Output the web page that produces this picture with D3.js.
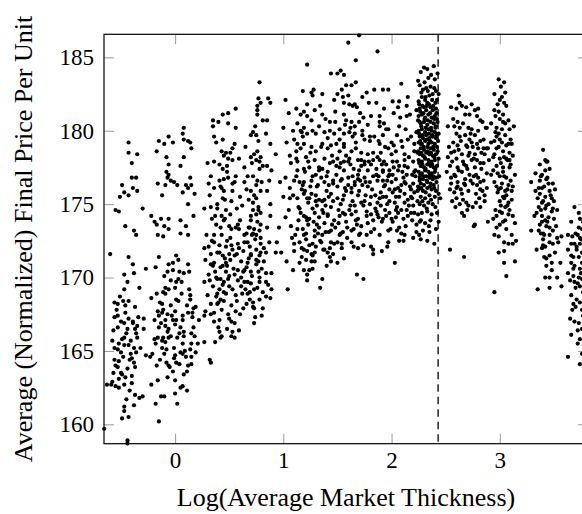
<!DOCTYPE html>
<html lang="en">
<head>
<meta charset="UTF-8">
<title>Average Final Price vs Log Market Thickness</title>
<script src="https://d3js.org/d3.v7.min.js"></script>
<style>
  body { margin: 0; background: white; }
  svg { display: block; }
</style>
</head>
<body>
<svg id="vis"></svg>
<script>
// axis setup
const xDomain = [-0.657, 3.815];
const yDomain = [158.68, 186.57];
const xTicks = [0, 1, 2, 3];
const yTicks = [160, 165, 170, 175, 180, 185];
const cutoff = 2.43;
const xLabel = "Log(Average Market Thickness)";
const yLabel = "Average (Normalized) Final Price Per Unit";

// points, grouped by region: [log thickness, price]
const upperLeft = [
  [-0.43,179.2],[-0.43,178.5],[-0.35,178.4],[-0.40,177.8],[-0.40,176.8],[-0.36,176.8],[-0.49,176.3],[-0.39,176.1],
  [-0.35,175.9],[-0.47,175.8],[-0.51,175.5],[-0.43,175.6],[-0.55,174.6],[-0.52,174.5],[-0.30,174.7],[-0.46,173.5],
  [-0.38,173.2],[-0.36,172.9],
  [-0.15,179.3],[-0.10,179.1],[-0.06,179.6],[-0.02,179.2],[-0.17,178.6],[0.08,180.2],[0.07,179.8],[0.08,179.4],
  [0.12,179.3],[0.14,179.2],[0.15,178.8],[-0.08,178.2],[0.08,178.2],[-0.06,177.7],[0.05,177.6],[-0.08,177.2],
  [-0.06,177.0],[-0.07,176.8],[-0.04,176.6],[-0.01,176.5],[0.02,176.3],[-0.09,176.3],[-0.16,176.4],[0.10,176.3],
  [0.14,176.8],[0.15,176.3],[0.12,176.1],[0.07,175.8],[0.18,175.7],[-0.12,175.6],[0.12,175.0],[0.17,174.2],
  [-0.22,174.2],[-0.19,173.8],[-0.17,173.6],[-0.13,174.0],[-0.06,174.0],[-0.10,173.5],[-0.06,173.3],[0.05,173.9],
  [0.10,173.5],[0.05,173.0],[0.12,172.9],[-0.16,172.9],[-0.11,172.8],
  [0.35,180.7],[0.40,180.6],[0.44,181.1],[0.49,181.2],[0.56,181.5],[0.35,180.3],[0.49,180.5],[0.56,180.2],
  [0.36,179.6],[0.44,179.4],[0.38,179.2],[0.55,179.1],[0.43,178.6],[0.47,178.5],[0.51,178.5],[0.53,178.8],
  [0.45,178.3],[0.49,178.1],[0.53,178.0],[0.59,178.1],[0.30,177.8],[0.36,177.9],[0.41,177.7],[0.44,177.4],
  [0.48,177.6],[0.33,176.9],[0.31,176.4],[0.41,176.6],[0.45,176.7],[0.49,176.8],[0.53,176.4],[0.56,176.9],
  [0.43,176.1],[0.36,176.1],[0.45,175.9],[0.53,175.9],[0.60,175.5],[0.44,175.4],[0.39,175.0],[0.52,175.2],
  [0.27,174.7],[0.33,174.8],[0.39,174.7],[0.47,174.6],[0.43,174.2],[0.34,174.0],[0.45,173.9],[0.50,173.5],
  [0.56,173.4],[0.59,173.3],[0.42,173.4],[0.36,172.9],
  [0.32,175.6],[0.37,174.2],[0.42,176.2],[0.46,175.3],[0.51,174.3],[0.55,176.5],[0.58,173.6],[0.62,174.9],
  [0.66,176.0],[0.69,173.4],[0.73,175.6],[0.77,174.6],[0.80,176.5],[0.64,177.5],[0.48,177.2],
  [0.78,183.3],[0.77,182.2],[0.76,181.7],[0.76,181.4],[0.76,181.1],[0.81,180.7],[0.72,179.9],[0.75,179.7],
  [0.70,179.7],[0.65,178.9],[0.76,178.6],[0.73,178.4],[0.79,178.2],[0.70,178.2],[0.75,178.0],[0.78,177.9],
  [0.81,177.6],[0.78,177.4],[0.72,176.9],[0.67,176.9],[0.76,176.6],[0.79,175.9],[0.70,175.9],[0.75,175.4],
  [0.72,175.1],[0.77,174.8],[0.70,174.2],[0.75,174.3],[0.79,174.4],[0.70,173.9],[0.76,173.8],[0.68,173.4],
  [0.73,173.3],[0.78,173.2],[0.72,173.0],[0.64,172.9],[0.75,172.9],[0.79,172.7]
];

const lowerLeft = [
  [-0.60,171.6],[-0.43,171.4],[-0.39,170.9],[-0.47,170.2],[-0.38,170.3],[-0.44,169.7],[-0.47,169.2],[-0.33,169.3],
  [-0.27,170.6],[-0.56,168.3],[-0.53,168.2],[-0.46,168.1],[-0.43,168.4],[-0.37,168.0],[-0.56,167.3],[-0.53,167.4],
  [-0.47,166.9],[-0.39,167.0],[-0.44,166.5],[-0.37,166.5],[-0.35,166.7],[-0.29,167.2],[-0.29,166.5],[-0.47,165.9],
  [-0.35,165.9],[-0.58,165.7],[-0.52,165.5],[-0.47,165.4],[-0.43,165.4],[-0.38,165.2],[-0.32,165.2],[-0.53,165.1],
  [-0.50,164.9],[-0.41,164.8],[-0.56,164.4],[-0.52,164.3],[-0.42,164.4],[-0.38,164.2],[-0.53,163.9],[-0.37,163.9],
  [-0.57,163.5],[-0.50,163.5],[-0.49,163.4],[-0.63,162.7],[-0.59,162.7],[-0.55,162.6],[-0.52,162.5],[-0.47,162.7],
  [-0.40,162.8],[-0.30,161.9],[-0.33,161.8],[-0.38,161.3],[-0.47,161.2],[-0.47,160.9],[-0.49,160.4],[-0.43,160.5],
  [-0.655,159.7],[-0.44,158.9],[-0.22,162.7],[-0.18,161.4],
  [-0.15,171.4],[0.01,171.5],[0.03,171.2],[-0.18,170.7],[-0.07,170.4],[-0.02,170.5],[0.04,170.4],[0.12,170.9],
  [0.13,170.4],[0.06,169.7],[0.01,169.7],[-0.06,169.2],[-0.09,169.3],[-0.11,169.0],[0.00,169.3],[-0.22,168.6],
  [0.14,168.8],[0.14,168.5],[-0.12,168.2],[-0.04,168.1],[0.03,168.4],[-0.16,167.7],[-0.12,167.6],[-0.07,167.5],
  [-0.15,167.4],[0.00,167.7],[0.12,167.6],[0.19,168.0],[0.16,167.6],[-0.09,167.1],[-0.02,167.1],[0.01,167.1],
  [0.07,167.1],[-0.15,166.6],[-0.09,166.7],[-0.06,166.5],[0.00,166.8],[0.17,166.6],[-0.04,166.0],[-0.06,165.9],
  [0.04,166.2],[0.08,166.0],[0.08,166.3],[0.18,166.0],[-0.19,165.8],[-0.16,165.9],[-0.11,165.9],[-0.09,165.6],
  [-0.18,165.5],[-0.12,165.2],[-0.01,165.2],[0.07,165.5],[0.15,165.5],[0.21,165.5],[-0.21,164.8],[-0.27,164.7],
  [-0.23,164.6],[-0.10,164.8],[0.00,164.7],[0.05,164.9],[0.07,164.8],[0.10,164.6],[0.15,164.6],[-0.17,164.0],
  [-0.08,164.2],[-0.06,164.0],[0.01,164.2],[-0.02,163.6],[0.15,164.1],[0.12,164.0],[0.08,163.4],[-0.07,163.2],
  [0.07,162.6],[0.05,162.5],[0.11,162.3],[0.00,162.1],[-0.13,161.9],[-0.10,161.9],[0.02,161.4],[-0.15,160.2],
  [0.27,172.0],[0.36,172.4],[0.41,172.2],[0.47,172.1],[0.52,172.2],[0.58,172.3],[0.64,172.4],[0.69,172.1],
  [0.75,171.9],[0.79,172.3],[0.41,171.7],[0.44,171.5],[0.50,171.6],[0.55,171.5],[0.70,171.6],[0.78,171.5],
  [0.33,170.9],[0.36,171.0],[0.42,170.7],[0.48,170.8],[0.58,170.5],[0.64,170.5],[0.70,170.4],[0.77,170.4],
  [0.61,171.1],[0.67,171.0],[0.27,169.7],[0.32,169.8],[0.38,170.0],[0.42,169.9],[0.45,169.7],[0.49,169.9],
  [0.50,169.4],[0.41,169.2],[0.45,169.0],[0.39,168.9],[0.42,168.5],[0.33,168.2],[0.28,167.7],[0.33,167.5],
  [0.36,167.6],[0.39,168.2],[0.52,168.1],[0.56,167.7],[0.41,167.1],[0.50,167.2],[0.61,169.4],[0.64,169.7],
  [0.70,169.6],[0.73,169.2],[0.78,169.7],[0.67,168.9],[0.72,168.3],[0.78,168.5],[0.81,167.9],[0.73,166.9],
  [0.22,167.1],[0.27,165.6],[0.41,166.3],[0.42,165.9],[0.53,166.3],[0.55,165.9],[0.52,166.0],[0.32,164.4],
  [0.33,164.2],[0.27,167.4],[0.16,167.3],
  [0.28,171.2],[0.31,170.2],[0.35,169.4],[0.38,168.7],[0.43,167.8],[0.46,171.3],[0.50,170.1],[0.53,169.2],
  [0.57,168.4],[0.60,167.5],[0.63,171.8],[0.66,170.7],[0.69,169.0],[0.72,168.0],[0.75,171.2],[0.78,170.0],
  [0.81,169.0],[0.34,172.5],[0.48,172.5],[0.58,169.8],[0.67,172.4],[0.55,166.9],[0.40,166.6],[0.74,167.3],
  [0.44,170.8],[0.39,169.9],[0.62,168.9],[0.70,171.5],[0.53,171.9],[0.47,168.9],[-0.44,158.7]
];

const denseLeft = [
  [-0.54,167.8],[-0.50,167.0],[-0.45,166.2],[-0.41,165.7],[-0.48,164.6],[-0.44,163.8],[-0.52,163.1],[-0.39,166.9],
  [-0.36,164.9],[-0.57,166.4],[-0.46,167.6],[-0.42,162.3],[-0.55,164.0],[-0.49,165.8],[-0.40,163.3],[-0.34,167.3],
  [-0.58,162.9],[-0.45,161.7],[-0.51,168.7],[-0.37,162.0],
  [-0.53,166.6],[-0.48,168.4],[-0.43,167.2],[-0.40,164.5],[-0.56,165.2],[-0.46,163.2],[-0.36,166.2],
  [-0.17,168.9],[-0.13,166.9],[-0.08,165.1],[-0.04,169.8],[0.01,168.5],[0.05,166.6],[0.09,165.0],[0.13,169.2],
  [0.17,167.9],[-0.19,167.1],[-0.14,164.4],[-0.10,170.1],[-0.05,163.9],[0.02,165.9],[0.06,168.9],[0.11,163.6],
  [0.15,166.2],[-0.11,167.8],[-0.02,171.0],[0.04,164.1],[-0.16,163.0],[0.08,170.3],[0.19,164.9],[-0.07,166.3],
  [0.00,163.0],[-0.14,168.3],[-0.09,168.9],[-0.03,167.4],[0.03,169.9],[0.07,167.4],[0.11,168.1],[-0.12,165.7],
  [-0.01,164.5],[0.14,165.1],[-0.06,170.9],
  [0.29,172.9],[0.33,171.6],[0.37,170.4],[0.40,168.3],[0.44,169.5],[0.47,171.0],[0.51,172.7],[0.54,170.6],
  [0.57,171.6],[0.61,170.0],[0.65,169.2],[0.68,171.3],[0.71,170.1],[0.74,172.6],[0.77,171.1],[0.80,170.6],
  [0.30,168.8],[0.36,167.0],[0.43,166.0],[0.49,167.5],[0.56,168.8],[0.63,167.9],[0.69,168.5],[0.76,169.3],
  [0.82,172.0],[0.52,173.3],[0.60,173.9],[0.66,173.0],[0.72,174.6],[0.79,173.6],[0.38,173.6],[0.46,174.0],
  [0.57,174.7],[0.64,176.5],[0.71,177.8],[0.77,179.3],[0.74,180.3],[0.79,181.9],[0.75,176.3],[0.68,175.3],
  [0.31,172.1],[0.35,170.8],[0.39,171.7],[0.43,172.9],[0.47,170.4],[0.51,171.2],[0.55,170.2],[0.59,172.0],
  [0.63,170.4],[0.67,169.7],[0.71,172.9],[0.75,170.9],[0.79,171.7],[0.45,168.4],[0.52,167.0],[0.59,166.4],
  [0.66,168.2],[0.73,167.9],[0.80,167.4],[0.37,165.6],[0.48,166.5]
];

const upperMid = [
  [1.70,186.5],[1.60,186.0],[1.87,185.4],[1.67,184.8],[1.22,184.5],[1.44,183.9],[1.50,183.9],[1.53,184.1],
  [1.56,183.8],[1.58,183.1],[1.63,183.1],[1.67,183.3],[2.09,183.2],[1.18,182.7],[1.26,182.6],[1.28,182.8],
  [1.27,182.4],[1.36,182.5],[1.50,182.5],[1.55,182.3],[1.47,182.1],[1.56,181.9],[1.60,182.4],[1.66,181.8],
  [1.64,181.7],[1.73,182.3],[1.77,182.6],[1.84,182.8],[1.92,182.8],[1.97,182.8],[2.01,182.0],[2.07,182.0],
  [2.15,182.3],[2.06,181.6],[2.14,181.7],[0.86,182.2],[0.88,181.9],[1.02,182.1],[1.22,181.8],[1.86,181.9],
  [1.79,181.9],[1.93,181.5],[1.05,181.2],[1.12,181.5],[1.16,181.1],[1.19,181.3],[1.22,181.0],[1.36,181.1],
  [1.39,180.8],[1.43,180.6],[1.48,181.3],[1.56,181.1],[1.58,180.7],[1.63,180.6],[1.66,180.3],[1.70,180.6],
  [1.73,180.0],[1.81,181.0],[1.89,181.0],[1.89,180.6],[1.93,180.5],[1.97,180.1],[2.07,180.3],[2.14,181.0],
  [2.17,181.1],[2.23,181.4],[2.26,180.6],[0.85,180.7],[1.00,180.2],[1.09,180.0],[1.13,180.5],[1.16,180.0],
  [1.19,180.2],[1.22,179.8],[1.27,180.0],[1.30,179.8],[1.38,179.9],[1.43,180.0],[1.47,179.8],[1.52,180.1],
  [1.56,179.8],[1.61,179.9],[1.66,179.8],[1.75,179.4],[1.80,179.3],[1.84,179.6],[1.92,179.7],[1.89,179.1],
  [2.00,179.2],[2.09,179.3],[2.18,179.6],[2.21,179.1],[2.27,179.1],[0.84,179.8],[0.88,179.1],[1.03,179.2],
  [1.10,179.4],[1.13,179.1],[1.19,179.1],[1.16,178.8],[1.26,178.9],[1.30,178.6],[1.36,179.1],[1.41,178.8],
  [1.44,179.0],[1.49,179.1],[1.52,178.6],[1.56,178.9],[1.63,178.6],[1.67,178.8],[1.72,178.5],[1.78,178.4],
  [1.83,178.5],[1.90,178.5],[1.97,178.8],[2.04,178.6],[2.12,178.4],[2.24,178.5],[0.93,178.4],[1.06,178.3],
  [1.12,178.1],[1.21,178.2],[1.29,178.0],[1.38,178.1],[1.46,177.9],[1.50,178.1],[1.56,177.9],[1.61,178.1],
  [1.69,178.0],[1.75,177.7],[1.81,177.7],[1.89,178.0],[1.95,177.7],[2.01,177.9],[2.07,177.6],[2.12,178.0],
  [2.20,177.9],[2.27,177.6],[0.85,177.6],[0.89,177.3],[1.13,177.3],[1.19,177.4],[1.24,177.5],[1.33,177.3],
  [1.41,177.2],[1.49,177.0],[1.56,177.3],[1.64,176.9],[1.70,177.3],[1.78,177.3],[1.86,177.0],[1.92,177.3],
  [1.98,177.0],[2.06,177.3],[2.14,177.0],[2.21,177.2],[0.87,176.6],[0.97,176.5],[1.06,176.1],[1.10,176.6],
  [1.19,176.5],[1.26,176.6],[1.32,176.3],[1.38,176.5],[1.46,176.4],[1.53,176.6],[1.60,176.3],[1.66,176.5],
  [1.73,176.3],[1.80,176.5],[1.87,176.6],[1.94,176.3],[2.00,176.5],[2.06,176.1],[2.12,176.5],[2.20,176.4],
  [2.26,176.6],[0.85,175.9],[1.00,175.5],[1.06,175.4],[1.19,175.7],[1.24,175.4],[1.30,175.6],[1.36,175.2],
  [1.44,175.7],[1.50,175.4],[1.56,175.6],[1.64,175.2],[1.69,175.6],[1.75,175.2],[1.81,175.5],[1.87,175.1],
  [1.92,175.5],[1.98,175.2],[2.04,175.5],[2.12,175.1],[2.18,175.5],[2.24,175.2],[0.88,175.0],[0.88,174.2],
  [1.02,174.1],[1.07,173.5],[1.15,174.7],[1.19,174.2],[1.22,173.9],[1.29,174.4],[1.33,174.1],[1.38,173.7],
  [1.41,174.3],[1.47,173.9],[1.52,174.2],[1.58,173.8],[1.63,174.3],[1.67,173.9],[1.72,173.5],[1.77,174.2],
  [1.83,173.9],[1.87,174.3],[1.92,174.0],[1.98,174.4],[2.04,174.1],[2.09,174.6],[2.15,174.2],[2.21,174.4],
  [2.27,173.9],[0.96,173.4],[1.13,173.3],[1.21,173.0],[1.29,173.2],[1.36,172.9],[1.44,173.2],[1.53,173.0],
  [1.63,173.2],[1.70,172.9],[1.81,173.1],[1.89,172.9],[1.97,173.2],[2.09,173.0],[2.23,173.1],[0.85,173.4],
  [1.12,176.9],[1.17,176.0],[1.23,175.1],[1.27,174.7],[1.31,173.6],[1.35,176.8],[1.40,175.9],[1.44,174.8],
  [1.48,173.4],[1.53,175.0],[1.57,176.1],[1.61,174.6],[1.65,173.3],[1.69,176.7],[1.74,174.9],[1.78,173.7],
  [1.82,176.0],[1.85,174.7],[1.90,175.8],[1.94,174.6],[1.97,176.9],[2.01,173.8],[2.05,174.8],[2.08,175.9],
  [2.13,173.5],[2.17,176.2],[2.20,174.9],[2.23,173.6],[1.14,173.9],[1.19,172.9],[1.25,176.2],[1.29,172.8],
  [1.33,175.3],[1.37,174.4],[1.42,173.1],[1.46,176.6],[1.51,173.7],[1.55,174.4],[1.59,172.7],[1.63,175.8],
  [1.67,174.5],[1.71,173.0],[1.76,176.5],[1.80,175.0],[1.84,173.3],[1.88,174.1],[1.92,176.6],[1.96,175.0],
  [2.00,174.0],[2.03,176.0],[2.07,173.4],[2.11,176.8],[2.15,175.3],[2.19,173.9],[2.22,177.3],[2.12,177.6],
  [2.02,177.5],[1.93,177.9],[1.83,178.0],[1.72,177.6],[1.62,177.7],[1.52,177.5],[1.43,177.8],[1.33,177.5],
  [1.23,177.9],[1.13,177.9]
];

const denseMid = [
  [1.13,175.4],[1.16,174.4],[1.18,173.3],[1.21,172.6],[1.24,174.0],[1.26,175.7],[1.28,173.8],[1.31,174.9],
  [1.34,172.5],[1.36,174.6],[1.39,173.1],[1.42,175.5],[1.44,172.4],[1.15,176.5],[1.20,177.2],[1.25,178.5],
  [1.30,177.0],[1.35,178.9],[1.40,176.9],[1.45,178.3],[1.18,179.6],[1.29,181.4],[1.33,180.3],[1.11,172.9],
  [1.22,175.4],[1.27,171.5],[1.32,173.0],[1.37,171.9],[1.41,174.2],[1.17,171.4],[1.23,173.6],[1.38,175.3],
  [1.20,175.9],[1.31,176.2],
  [1.14,174.8],[1.18,176.3],[1.21,174.1],[1.24,172.2],[1.27,176.9],[1.30,175.2],[1.33,173.4],[1.36,177.4],
  [1.39,174.9],[1.42,176.3],[1.45,173.6],[1.12,178.6],[1.17,179.9],[1.26,180.7],[1.34,181.7],[1.41,179.5],
  [1.48,180.6],[1.46,175.2],[1.49,177.6],[1.52,172.9],
  [1.02,176.8],[1.05,174.6],[1.08,172.7],[1.03,171.1],[1.07,177.8],[1.09,175.6],
  [1.50,176.2],[1.53,177.8],[1.55,175.3],[1.58,178.3],[1.60,176.8],[1.62,174.9],[1.65,177.4],[1.67,179.2],
  [1.70,175.9],[1.72,178.0],[1.75,176.8],[1.77,174.5],[1.79,177.9],[1.52,179.4],[1.57,180.4],[1.64,179.6],
  [1.71,181.2],[1.61,181.8],[1.55,173.1],[1.68,173.6],[1.74,172.2],[1.58,175.9],[1.66,176.3],[1.73,179.7],
  [1.78,180.4],[1.51,174.6],[1.63,172.4],[1.69,174.0],[1.76,175.6],[1.54,182.8],
  [1.54,176.7],[1.57,174.3],[1.60,177.9],[1.63,176.1],[1.66,174.9],[1.69,177.0],[1.72,175.1],[1.75,177.9],
  [1.78,176.2],[1.81,174.3],[1.56,179.1],[1.62,180.2],[1.68,181.6],[1.74,180.9],[1.80,179.6],[1.59,173.4],
  [1.65,172.1],[1.71,176.6],[1.77,172.9],[1.83,176.9],
  [1.85,175.6],[1.88,176.9],[1.90,174.9],[1.93,176.2],[1.95,175.5],[1.98,177.3],[2.01,175.8],[2.04,176.7],
  [2.06,174.4],[2.09,176.3],[2.12,175.7],[2.15,177.5],[2.18,176.0],[2.21,175.8],[1.87,178.2],[1.94,178.9],
  [2.00,178.4],[2.05,179.7],[2.10,178.9],[2.16,178.2],[1.91,173.8],[1.99,173.3],[2.07,172.5],[2.14,174.6],
  [2.20,172.7],[1.86,177.4],[1.96,176.6],[2.03,175.1],[2.11,174.0],[2.19,177.0],[2.23,179.9],[2.24,175.9],
  [1.89,180.3],[2.02,181.2],[2.13,180.1],
  [1.86,174.5],[1.89,175.4],[1.92,177.2],[1.95,174.2],[1.98,176.0],[2.01,177.0],[2.04,174.6],[2.07,175.5],
  [2.10,177.2],[2.13,176.4],[2.16,174.9],[2.19,175.4],[2.22,176.9],[1.88,179.3],[1.95,180.1],[2.02,179.0],
  [2.08,180.9],[2.15,179.4],[2.21,178.6],[1.97,172.4],[2.05,173.2],[2.12,172.9],[2.18,174.4],[1.91,177.7],
  [2.05,177.9]
];

const lowerMid = [
  [0.87,172.4],[0.94,172.4],[0.84,171.7],[0.93,171.7],[0.98,171.7],[0.82,171.1],[0.84,170.3],[0.89,170.3],
  [0.84,169.7],[0.86,169.5],[0.89,169.2],[0.84,168.7],[0.88,168.6],[1.04,169.2],[1.09,170.5],[1.10,172.3],
  [1.10,171.8],[1.15,172.4],[1.17,172.0],[1.19,171.9],[1.22,171.8],[1.27,172.3],[1.30,172.1],[1.29,171.7],
  [1.26,171.6],[1.15,171.0],[1.21,171.2],[1.26,171.1],[1.29,171.1],[1.19,170.5],[1.24,170.5],[1.27,170.6],
  [1.22,170.2],[1.22,169.8],[1.36,169.9],[1.34,169.3],[1.35,172.4],[1.38,171.9],[1.43,172.0],[1.47,172.3],
  [1.50,172.4],[1.41,171.7],[1.46,171.6],[1.43,171.4],[1.44,171.1],[1.40,170.8],[1.50,171.0],[1.56,171.3],
  [1.54,172.0],[1.54,172.3],[1.69,172.0],[1.68,170.2],[1.74,169.9],[1.81,172.1],[1.83,171.9],[1.83,171.6],
  [1.91,171.8],[1.96,172.1],[2.03,171.0],[2.11,172.5]
];

const peakBand = [
  [2.30,184.3],[2.33,184.2],[2.39,184.4],[2.27,184.0],[2.34,183.6],[2.40,183.5],[2.26,183.1],[2.29,182.8],
  [2.32,182.9],[2.36,183.0],[2.41,182.7],[2.38,182.5],[2.28,182.3],[2.31,182.1],[2.35,182.4],[2.42,182.1],
  [2.25,182.0],[2.33,181.9],
  [2.26,181.5],[2.30,181.6],[2.32,181.4],[2.36,181.6],[2.38,181.4],[2.41,181.5],
  [2.25,181.0],[2.28,181.1],[2.31,180.9],[2.34,181.1],[2.37,180.9],[2.40,181.0],[2.42,180.8],
  [2.27,180.5],[2.30,180.6],[2.33,180.4],[2.36,180.6],[2.39,180.5],[2.41,180.3],
  [2.25,180.0],[2.28,180.1],[2.31,179.9],[2.34,180.1],[2.37,180.0],[2.40,179.9],
  [2.26,179.6],[2.29,179.5],[2.32,179.7],[2.35,179.5],[2.38,179.6],[2.41,179.5],
  [2.25,179.2],[2.28,179.1],[2.31,179.3],[2.34,179.1],[2.37,179.2],[2.40,179.1],[2.43,179.3],
  [2.27,178.8],[2.30,178.7],[2.33,178.9],[2.36,178.8],[2.39,178.7],[2.42,178.9],
  [2.26,178.4],[2.29,178.3],[2.32,178.5],[2.35,178.4],[2.38,178.3],[2.41,178.4],
  [2.25,178.0],[2.28,177.9],[2.31,178.1],[2.34,178.0],[2.37,177.9],[2.40,178.0],
  [2.27,177.6],[2.30,177.5],[2.33,177.7],[2.36,177.6],[2.39,177.5],[2.42,177.6],
  [2.25,177.2],[2.28,177.1],[2.31,177.3],[2.34,177.2],[2.37,177.1],[2.40,177.2],
  [2.26,176.8],[2.29,176.7],[2.32,176.9],[2.35,176.8],[2.38,176.7],[2.41,176.8],[2.44,176.9],
  [2.27,176.4],[2.30,176.3],[2.33,176.5],[2.36,176.4],[2.39,176.3],
  [2.25,176.0],[2.29,175.9],[2.33,176.1],[2.37,176.0],[2.41,175.9],
  [2.27,175.5],[2.31,175.4],[2.35,175.6],[2.40,175.5],[2.45,175.4],
  [2.26,175.0],[2.30,174.9],[2.34,175.1],[2.38,175.0],
  [2.28,174.4],[2.33,174.5],[2.37,174.3],[2.42,174.4],
  [2.26,173.8],[2.31,173.7],[2.36,173.9],
  [2.29,173.2],[2.35,173.1],[2.41,173.3],[2.27,172.6],[2.33,172.5]
];

const peakCore = [
  [2.245,183.4],[2.275,182.6],[2.305,183.3],[2.335,182.7],[2.365,183.8],[2.395,182.9],[2.425,183.9],
  [2.255,181.8],[2.285,181.7],[2.315,182.3],[2.345,181.8],[2.375,182.1],[2.405,181.9],[2.435,182.5],
  [2.265,181.3],[2.295,181.2],[2.325,181.7],[2.355,181.2],[2.385,181.7],[2.415,181.2],
  [2.245,180.7],[2.275,180.3],[2.305,180.8],[2.335,180.7],[2.365,180.2],[2.395,180.8],[2.425,180.6],
  [2.255,179.8],[2.285,179.7],[2.315,180.2],[2.345,179.8],[2.375,179.7],[2.405,180.2],[2.435,179.8],
  [2.265,179.3],[2.295,178.9],[2.325,179.4],[2.355,179.3],[2.385,178.9],[2.415,179.7],
  [2.245,178.6],[2.275,178.5],[2.305,178.2],[2.335,178.6],[2.365,178.5],[2.395,178.2],[2.425,178.6],
  [2.255,177.8],[2.285,177.7],[2.315,177.4],[2.345,177.8],[2.375,177.7],[2.405,177.4],[2.435,178.1],
  [2.265,177.0],[2.295,176.9],[2.325,176.6],[2.355,177.0],[2.385,176.9],[2.415,176.5],
  [2.245,176.2],[2.275,176.1],[2.315,175.8],[2.355,176.2],[2.395,176.1],[2.435,175.7],
  [2.285,175.2],[2.325,174.7],[2.365,175.3],[2.405,174.8],[2.245,174.3],[2.345,173.5],[2.395,172.3],[2.255,172.9],
  [2.435,173.8]
];

const upperRight = [
  [2.55,181.6],[2.60,181.5],[2.63,181.9],[2.65,181.7],[2.68,181.1],[2.72,181.1],[2.77,181.4],[2.79,181.0],
  [2.82,180.7],[2.52,180.3],[2.58,180.3],[2.61,180.6],[2.66,180.5],[2.71,180.2],[2.74,180.1],[2.80,180.0],
  [2.87,180.2],[2.92,180.5],[2.60,179.8],[2.63,179.6],[2.68,179.7],[2.72,179.4],[2.77,179.7],[2.82,179.3],
  [2.57,179.2],[2.61,179.0],[2.69,179.0],[2.75,178.9],[2.80,178.8],[2.85,178.8],[2.89,178.8],[2.55,178.5],
  [2.65,178.4],[2.71,178.3],[2.77,178.4],[2.83,178.5],[2.60,178.1],[2.66,177.9],[2.74,178.0],[2.79,178.0],
  [2.54,177.6],[2.61,177.5],[2.69,177.6],[2.77,177.5],[2.83,177.4],[2.51,177.2],[2.58,177.0],[2.65,177.2],
  [2.72,177.0],[2.80,176.8],[2.85,176.6],[2.55,176.4],[2.61,176.5],[2.68,176.3],[2.75,176.4],[2.82,176.0],
  [2.88,176.1],[2.54,176.0],[2.58,175.8],[2.65,175.7],[2.71,175.9],[2.78,175.7],[2.86,175.6],[2.60,175.4],
  [2.63,175.0],[2.69,175.1],[2.75,174.8],[2.82,174.8],[2.65,174.4],[2.70,174.6],[2.86,175.2],[2.76,173.5],
  [2.77,173.6],[2.88,180.2],
  [2.99,183.5],[3.04,183.3],[2.95,182.5],[3.02,182.3],[3.00,182.1],[2.98,181.8],[3.06,181.7],[2.95,181.4],
  [2.99,181.3],[3.03,181.1],[3.08,180.7],[3.00,180.8],[3.05,180.5],[2.97,180.2],[3.02,180.1],[3.09,180.1],
  [2.99,179.8],[3.05,179.7],[2.95,179.3],[3.02,179.2],[3.08,179.1],[3.11,179.1],[2.92,179.2],[2.97,178.8],
  [3.03,178.6],[3.09,178.5],[2.94,178.2],[3.00,178.1],[3.06,178.1],[3.12,178.3],[2.97,177.6],[3.03,177.5],
  [3.09,177.5],[2.92,177.0],[3.00,176.9],[3.06,176.8],[3.14,177.0],[2.95,176.5],[3.02,176.4],[3.08,176.3],
  [2.99,176.0],[3.05,175.9],[3.11,175.9],[3.03,175.5],[3.00,175.2],[3.08,175.1],[3.05,174.8],[3.02,174.4],
  [3.08,174.3],[2.97,174.2],[2.94,174.0],[3.12,174.2],[3.05,173.9],[3.00,173.6],[3.14,173.7],[2.97,173.4],
  [3.06,173.3],[2.89,173.8],[2.95,172.9],[3.11,172.9],[2.86,178.4],[2.88,178.8],
  [3.40,178.7],[3.37,177.7],[3.43,177.9],[3.46,177.4],[3.42,177.3],[3.33,177.1],[3.39,177.0],[3.29,176.5],
  [3.37,176.6],[3.43,176.7],[3.49,176.4],[3.39,176.1],[3.46,175.9],[3.37,175.7],[3.42,175.5],[3.48,175.4],
  [3.39,175.1],[3.45,175.0],[3.36,174.8],[3.42,174.7],[3.49,174.7],[3.32,174.2],[3.39,174.2],[3.45,174.1],
  [3.37,173.6],[3.43,173.5],[3.49,173.2],[3.29,173.2],[3.40,173.0],[3.46,172.9],[3.53,172.7],[3.57,172.8],
  [3.69,174.8],[3.74,174.0],[3.66,173.8],[3.73,173.4],[3.63,172.9],[3.70,173.0],[3.74,172.7]
];

const lowerRight = [
  [3.04,172.4],[3.12,172.3],[3.15,172.5],[2.99,171.7],[3.04,171.8],[3.04,171.0],[3.14,171.1],[3.06,170.1],
  [2.95,169.0],[2.54,171.9],[2.67,171.4],
  [3.34,171.9],[3.39,172.0],[3.42,172.1],[3.49,172.3],[3.51,171.7],[3.54,172.4],[3.46,171.5],[3.43,171.3],
  [3.48,171.0],[3.56,171.0],[3.43,170.8],[3.46,170.0],[3.42,170.0],[3.53,170.0],[3.57,169.4],[3.35,169.2],
  [3.46,169.3],[3.40,172.2],
  [3.63,171.9],[3.66,172.3],[3.71,172.1],[3.74,172.3],[3.76,171.7],[3.66,171.5],[3.73,171.4],[3.76,171.0],
  [3.66,171.0],[3.69,170.8],[3.74,170.6],[3.63,170.3],[3.68,170.1],[3.73,170.0],[3.76,169.9],[3.69,169.7],
  [3.74,169.4],[3.66,168.8],[3.71,168.5],[3.74,168.3],[3.68,168.2],[3.65,167.2],[3.69,167.0],[3.73,166.9],
  [3.76,166.5],[3.72,166.4],[3.72,165.5],[3.63,164.6],[3.74,164.1],[3.76,164.8],[3.77,167.4],[3.77,169.0]
];

const denseRight = [
  [2.53,178.9],[2.56,177.9],[2.59,176.9],[2.62,178.7],[2.64,176.0],[2.67,177.7],[2.70,178.9],[2.73,176.6],
  [2.76,178.1],[2.79,176.3],[2.82,177.8],[2.85,179.4],[2.88,177.1],[2.57,180.8],[2.63,180.2],[2.69,181.6],
  [2.74,179.2],[2.80,181.5],[2.84,180.6],[2.60,176.1],[2.66,175.3],[2.71,174.9],[2.78,175.1],[2.84,175.9],
  [2.62,177.3],[2.68,176.7],[2.72,178.5],[2.78,177.0],[2.56,175.2],[2.90,178.0],
  [2.52,178.2],[2.55,176.8],[2.58,178.6],[2.61,176.2],[2.64,179.3],[2.67,176.4],[2.70,177.4],[2.73,179.8],
  [2.76,176.9],[2.79,179.1],[2.82,176.5],[2.85,177.8],[2.59,174.8],[2.67,174.2],[2.81,175.4],[2.62,182.4],
  [2.74,181.8],
  [2.96,179.9],[2.99,178.9],[3.01,177.8],[3.04,176.9],[3.07,178.0],[3.10,176.6],[2.98,175.8],[3.01,174.9],
  [3.04,175.4],[3.07,174.9],[3.10,177.7],[2.94,177.3],[2.97,176.2],[3.00,179.4],[3.03,180.6],[3.06,179.0],
  [3.09,178.0],[3.12,176.2],[2.96,174.6],[3.03,173.8],[3.08,172.3],[2.99,172.8],[3.05,182.6],[3.01,183.0],
  [3.13,180.3],
  [2.95,178.4],[2.98,177.1],[3.01,176.1],[3.04,178.2],[3.07,176.0],[3.10,179.4],[2.97,179.6],[3.03,177.2],
  [3.06,175.6],[3.09,174.6],[3.00,174.5],[3.04,181.9],[2.96,181.0],[3.11,175.3],
  [3.35,175.4],[3.38,174.6],[3.41,176.2],[3.44,173.8],[3.47,175.6],[3.36,173.2],[3.40,172.6],[3.43,174.9],
  [3.46,172.4],[3.50,174.0],[3.38,176.9],[3.44,177.9],[3.33,175.9],[3.41,171.4],[3.48,170.5],[3.52,173.5],
  [3.45,176.4],[3.39,173.8],[3.51,176.0],[3.42,178.0],
  [3.36,176.1],[3.40,175.2],[3.44,176.8],[3.48,174.5],[3.38,173.0],[3.42,173.9],[3.46,173.4],[3.50,175.2],
  [3.34,174.4],[3.41,172.9],[3.53,174.6],
  [3.67,172.8],[3.71,171.9],[3.75,172.6],[3.79,171.5],[3.68,170.6],[3.72,169.6],[3.78,170.4],[3.80,168.9],
  [3.70,168.0],[3.76,167.8],[3.79,166.7],[3.74,165.8],[3.80,165.2],[3.65,169.8],[3.69,172.3],[3.77,173.8],
  [3.81,172.9],[3.73,174.4],[3.80,174.9],[3.78,169.6],[3.81,171.1],[3.66,166.1],[3.79,164.3],
  [3.68,171.4],[3.72,172.9],[3.75,170.3],[3.78,168.4],[3.70,169.3],[3.81,169.7],[3.67,167.8],[3.76,173.3]
];

const points = [].concat(upperLeft, lowerLeft, denseLeft, upperMid, denseMid, lowerMid,
    peakBand, peakCore, upperRight, lowerRight, denseRight);

// drawing
const width = 582, height = 514;
const FONT = "'Liberation Serif', 'Times New Roman', serif";
const svg = d3.select("#vis").attr("width", width).attr("height", height);

const x = d3.scaleLinear().domain(xDomain).range([104, 588]);
const y = d3.scaleLinear().domain(yDomain).range([443.7, 34.3]);
const [x0, x1] = x.range();
const [y0, y1] = y.range();

function styleAxis(g) {
    g.select(".domain").remove();
    g.selectAll(".tick line").attr("stroke", "#9a9a9a").attr("stroke-width", 1);
    g.selectAll(".tick text").attr("fill", "#000").style("font-family", FONT).style("font-size", "23px");
}

svg.append("g").attr("transform", `translate(0,${y0})`)
    .call(d3.axisBottom(x).tickValues(xTicks).tickSizeInner(-10).tickSizeOuter(0).tickPadding(8).tickFormat(d3.format("d")))
    .call(styleAxis);
svg.append("g").attr("transform", `translate(0,${y1})`)
    .call(d3.axisTop(x).tickValues(xTicks).tickSizeInner(-10).tickSizeOuter(0).tickFormat(() => ""))
    .call(styleAxis);
svg.append("g").attr("transform", `translate(${x0},0)`)
    .call(d3.axisLeft(y).tickValues(yTicks).tickSizeInner(-10).tickSizeOuter(0).tickPadding(10))
    .call(styleAxis);
svg.append("g").attr("transform", `translate(${x1},0)`)
    .call(d3.axisRight(y).tickValues(yTicks).tickSizeInner(-10).tickSizeOuter(0).tickFormat(() => ""))
    .call(styleAxis);

// frame
svg.append("rect")
    .attr("x", x0).attr("y", y1)
    .attr("width", x1 - x0).attr("height", y0 - y1)
    .attr("fill", "none").attr("stroke", "#000").attr("stroke-width", 1.2);

// cutoff line
svg.append("line")
    .attr("x1", x(cutoff)).attr("x2", x(cutoff))
    .attr("y1", y1).attr("y2", y0)
    .attr("stroke", "#000").attr("stroke-width", 1.3)
    .attr("stroke-dasharray", "7.5,5");

// scatter
svg.append("g").selectAll("circle")
    .data(points)
    .join("circle")
    .attr("cx", d => x(d[0]))
    .attr("cy", d => y(d[1]))
    .attr("r", 2.1)
    .attr("fill", "#000");

// axis titles
svg.append("text")
    .attr("x", (x0 + x1) / 2).attr("y", 506)
    .attr("text-anchor", "middle")
    .style("font-family", FONT).style("font-size", "26px")
    .text(xLabel);
svg.append("text")
    .attr("transform", `translate(32,${(y0 + y1) / 2}) rotate(-90)`)
    .attr("text-anchor", "middle")
    .style("font-family", FONT).style("font-size", "26px")
    .text(yLabel);
</script>
</body>
</html>
